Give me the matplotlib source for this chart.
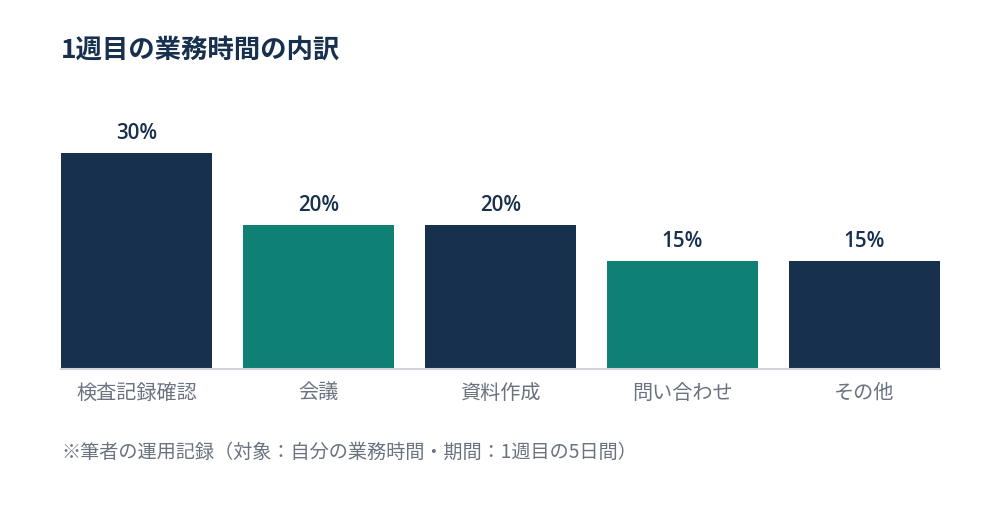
import matplotlib.pyplot as plt

plt.rcParams['font.family'] = ['Noto Sans CJK JP', 'DejaVu Sans']

categories = ['検査記録確認', '会議', '資料作成', '問い合わせ', 'その他']
shares = [30, 20, 20, 15, 15]
value_labels = ['30%', '20%', '20%', '15%', '15%']

navy = '#17304d'
teal = '#0f8074'
colors = [navy, teal, navy, teal, navy]

fig = plt.figure(figsize=(10, 5.2), dpi=100)
ax = fig.add_axes([0.061, 0.2904, 0.879, 0.4154])

w = 151 / 182
x = list(range(len(categories)))
ax.bar(x, shares, width=w, color=colors, zorder=2)
ax.set_xlim(-w / 2, len(categories) - 1 + w / 2)
ax.set_ylim(0, 30)

for xi, v, lab in zip(x, shares, value_labels):
    ax.annotate(lab, (xi, v), xytext=(0, 14), textcoords='offset points',
                ha='center', va='center', fontsize=14.8, fontweight='semibold',
                family=['Open Sans', 'DejaVu Sans'],
                color=navy, annotation_clip=False)

for s in ['top', 'right', 'left']:
    ax.spines[s].set_visible(False)
ax.spines['bottom'].set_color('#d1d5db')
ax.spines['bottom'].set_linewidth(1.5)
ax.set_yticks([])
ax.set_xticks(x)
ax.set_xticklabels(categories, fontsize=14.5, color='#6b7280')
ax.tick_params(axis='x', length=0, pad=10)

fig.text(0.061, 0.904, '1週目の業務時間の内訳', fontsize=19, fontweight='bold',
         color=navy, ha='left', va='center')
fig.text(0.061, 0.131, '※筆者の運用記録（対象：自分の業務時間・期間：1週目の5日間）',
         fontsize=13.8, color='#6b7280', ha='left', va='center')

fig.savefig('out.png', dpi=100, facecolor='white')
